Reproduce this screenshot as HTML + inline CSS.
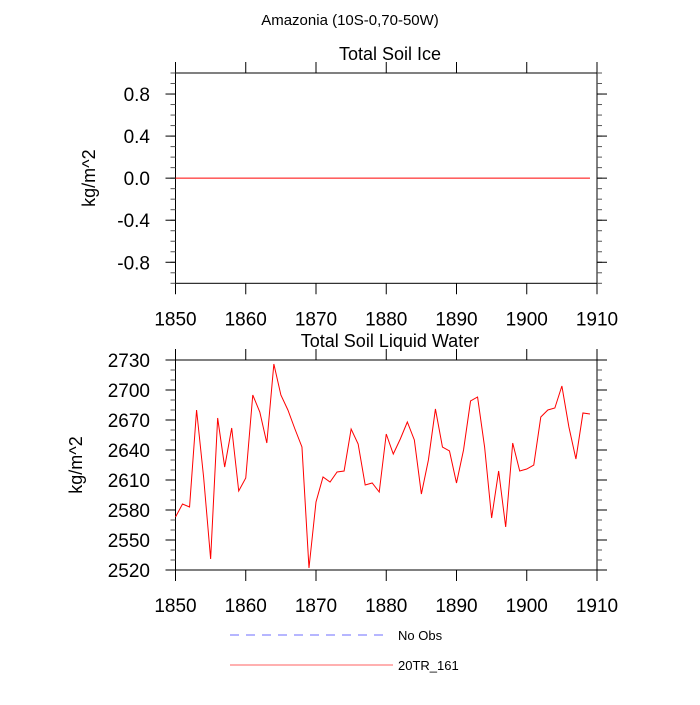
<!DOCTYPE html>
<html><head><meta charset="utf-8">
<style>
body{margin:0;background:#fff;}
svg text{font-family:"Liberation Sans",Arial,sans-serif;fill:#000;}
</style></head>
<body>
<svg id="chart" width="700" height="700" viewBox="0 0 700 700" xmlns="http://www.w3.org/2000/svg">
<text x="350" y="25" font-size="15" text-anchor="middle">Amazonia (10S-0,70-50W)</text>
<g id="top"></g>
<g id="bot"></g>
<g>
<line x1="230" y1="635" x2="386" y2="635" stroke="#6c6cff" stroke-width="1" stroke-dasharray="9,7"/>
<text x="398" y="640" font-size="13">No Obs</text>
<line x1="230" y1="665" x2="393" y2="665" stroke="#ff6060" stroke-width="1"/>
<text x="398" y="670" font-size="13">20TR_161</text>
</g>
</svg>
<script>
const years = [];
for (let y = 1850; y <= 1909; y++) years.push(y);
const iceValues = years.map(() => 0);
const waterValues = [2573,2586,2583,2680,2613,2531,2672,2623,2662,2599,
2612,2695,2678,2647,2726,2695,2680,2661,2643,2522,
2588,2613,2608,2618,2619,2661,2646,2605,2607,2598,
2656,2636,2651,2668,2650,2596,2630,2681,2643,2639,
2607,2640,2689,2693,2643,2572,2619,2563,2647,2619,
2621,2625,2673,2680,2682,2704,2663,2631,2677,2676];
const xTicks = [1850,1860,1870,1880,1890,1900,1910];
const iceTicks = [-0.8,-0.4,0.0,0.4,0.8];
const waterTicks = [2520,2550,2580,2610,2640,2670,2700,2730];

const NS = "http://www.w3.org/2000/svg";
function mk(parent, tag, attrs, txt){
  const e = document.createElementNS(NS, tag);
  for (const k in attrs) e.setAttribute(k, attrs[k]);
  if (txt !== undefined) e.textContent = txt;
  parent.appendChild(e); return e;
}
const L = 175.5, R = 597;
const xs = v => L + (v - 1850) / 60 * (R - L);

function panel(g, top, bottom, ymin, ymax, ticks, minorStep, fmt, title, vals, yTitleX){
  const ys = v => bottom - (v - ymin) / (ymax - ymin) * (bottom - top);
  const fr = mk(g, 'rect', {x:L, y:top, width:R-L, height:bottom-top, fill:'none', stroke:'#000', 'stroke-width':1});
  
  
  const t = mk(g, 'text', {x:390, y:top-13, 'font-size':18, 'text-anchor':'middle'}, title);
  
  
  const yt = mk(g, 'text', {x:0, y:0, 'font-size':18, 'text-anchor':'middle', transform:`translate(${yTitleX},${(top+bottom)/2}) rotate(-90)`}, 'kg/m^2');
  
  
  xTicks.forEach(v => {
    const x = xs(v);
    mk(g, 'line', {x1:x, y1:top, x2:x, y2:top-11, stroke:'#000'});
    mk(g, 'line', {x1:x, y1:bottom, x2:x, y2:bottom+11, stroke:'#000'});
    const lb = mk(g, 'text', {x:x, y:bottom+42, 'font-size':19, 'text-anchor':'middle'}, String(v));
    
    
  });
  for (let v = ymin; v <= ymax + 1e-9; v += minorStep) {
    const y = ys(v);
    mk(g, 'line', {x1:L, y1:y, x2:L-5, y2:y, stroke:'#555'});
    mk(g, 'line', {x1:R, y1:y, x2:R+5, y2:y, stroke:'#555'});
  }
  ticks.forEach(v => {
    const y = ys(v);
    mk(g, 'line', {x1:L, y1:y, x2:L-10, y2:y, stroke:'#000'});
    mk(g, 'line', {x1:R, y1:y, x2:R+10, y2:y, stroke:'#000'});
    const lb = mk(g, 'text', {x:150, y:y+7, 'font-size':19, 'text-anchor':'end'}, fmt(v));
    
    
  });
  const pts = vals.map((v, i) => xs(years[i]).toFixed(2) + ',' + ys(v).toFixed(2)).join(' ');
  const pl = mk(g, 'polyline', {points:pts, fill:'none', stroke:'#ff0000', 'stroke-width':1});
  
  
}
panel(document.getElementById('top'), 73, 283.3, -1, 1, iceTicks, 0.1, v => v.toFixed(1), 'Total Soil Ice', iceValues, 95);
panel(document.getElementById('bot'), 360, 570, 2520, 2730, waterTicks, 10, v => String(v), 'Total Soil Liquid Water', waterValues, 82);
</script>
</body></html>
